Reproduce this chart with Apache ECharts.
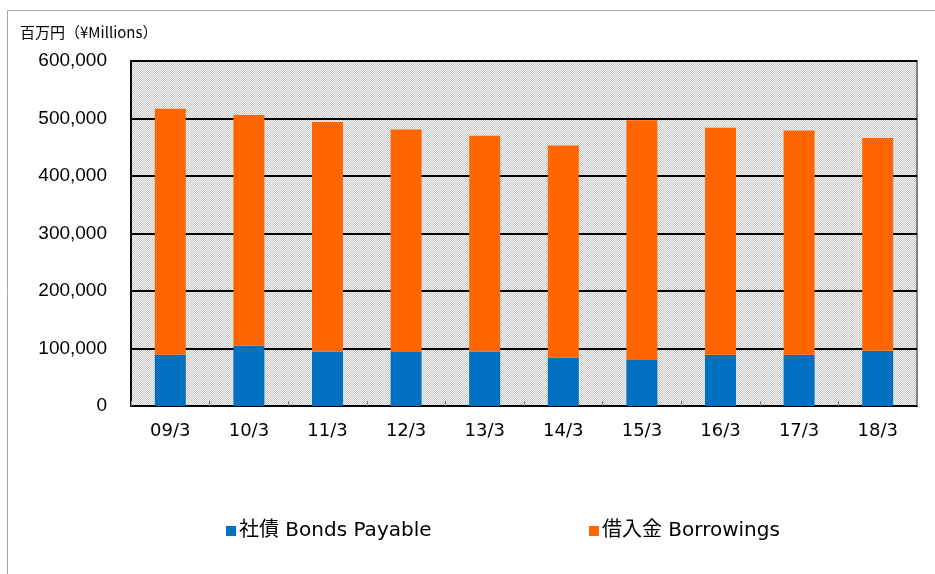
<!DOCTYPE html>
<html>
<head>
<meta charset="utf-8">
<script src="https://cdn.jsdelivr.net/npm/echarts@6/dist/echarts.min.js"></script>
<style>
html, body { margin: 0; padding: 0; background: #fff; }
#chart { width: 935px; height: 574px; }
</style>
</head>
<body>
<div id="chart"></div>
<script>
// 年度 (March year-end)
const categories = ["09/3", "10/3", "11/3", "12/3", "13/3", "14/3", "15/3", "16/3", "17/3", "18/3"];
// 社債 Bonds Payable (¥ millions)
const bonds = [89000, 105000, 95000, 94000, 95000, 84000, 80000, 89000, 89000, 96000];
// 借入金 Borrowings (¥ millions)
const borrowings = [428000, 401000, 399000, 387000, 375000, 369000, 417000, 395000, 390000, 370000];
const yTicks = [0, 100000, 200000, 300000, 400000, 500000, 600000];

// checker pattern for the plot background
const pat = document.createElement("canvas");
pat.width = 2;
pat.height = 2;
const pctx = pat.getContext("2d");
pctx.fillStyle = "#f8f8f8";
pctx.fillRect(0, 0, 2, 2);
pctx.fillStyle = "#c4c4c4";
pctx.fillRect(1, 0, 1, 1);
pctx.fillRect(0, 1, 1, 1);

const legendText = { fontSize: 20, color: "#000", fontFamily: '"DejaVu Sans", "Noto Sans CJK JP"', padding: [0, 0, 0, -2] };

const chart = echarts.init(document.getElementById("chart"));
const option = {
  animation: false,
  graphic: [
    {
      type: "rect",
      shape: { x: 7.5, y: 10.5, width: 1200, height: 1200 },
      style: { fill: "none", stroke: "#a6a6a6", lineWidth: 1 },
      silent: true
    },
    {
      type: "text",
      left: 20,
      top: 25,
      style: {
        text: "百万円（¥Millions）",
        font: '15px "Noto Sans CJK JP"',
        fill: "#000"
      }
    }
  ],
  legend: [
    {
      data: ["社債 Bonds Payable"],
      left: 221,
      top: 516,
      itemWidth: 10,
      itemHeight: 10,
      icon: "rect",
      textStyle: legendText
    },
    {
      data: ["借入金 Borrowings"],
      left: 584,
      top: 516,
      itemWidth: 10,
      itemHeight: 10,
      icon: "rect",
      textStyle: legendText
    }
  ],
  grid: {
    left: 131,
    right: 18,
    top: 61,
    bottom: 168,
    show: true,
    backgroundColor: { image: pat, repeat: "repeat" },
    borderColor: "#808080",
    borderWidth: 2
  },
  xAxis: {
    type: "category",
    data: categories,
    axisLine: { lineStyle: { color: "#000", width: 2 } },
    axisTick: { show: true, inside: true, length: 5, lineStyle: { color: "#808080" } },
    axisLabel: { fontSize: 18, color: "#000", fontFamily: "DejaVu Sans", margin: 16 }
  },
  yAxis: {
    type: "value",
    min: yTicks[0],
    max: yTicks[yTicks.length - 1],
    interval: 100000,
    axisLine: { show: true, lineStyle: { color: "#000", width: 2 } },
    axisTick: { show: true, inside: true, length: 5, lineStyle: { color: "#000" } },
    splitLine: { show: true, lineStyle: { color: "#000", width: 2 } },
    axisLabel: {
      fontSize: 19,
      color: "#000",
      fontFamily: "Liberation Sans",
      margin: 24,
      formatter: function (v) { return v.toLocaleString("en-US"); }
    }
  },
  series: [
    {
      name: "社債 Bonds Payable",
      type: "bar",
      stack: "total",
      barWidth: 31,
      itemStyle: { color: "#0070c0" },
      data: bonds
    },
    {
      name: "借入金 Borrowings",
      type: "bar",
      stack: "total",
      barWidth: 31,
      itemStyle: { color: "#ff6600" },
      data: borrowings
    }
  ]
};
chart.setOption(option);
</script>
</body>
</html>
